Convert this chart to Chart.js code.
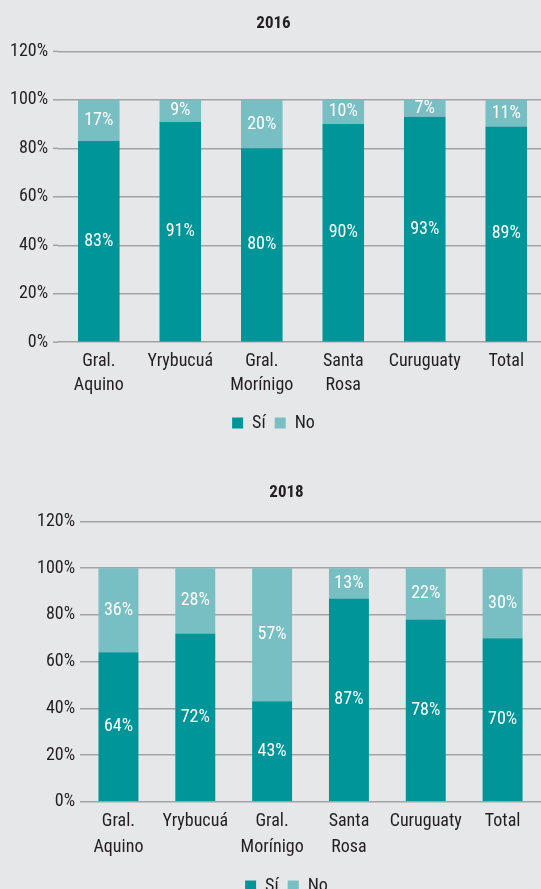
<!DOCTYPE html>
<html><head><meta charset="utf-8">
<script src="https://cdn.jsdelivr.net/npm/chart.js@4/dist/chart.umd.min.js"></script>
<style>
html,body{margin:0;padding:0;background:#e6e7e9;overflow:hidden;width:541px;height:889px;}
.wrap{position:absolute;left:0;}
</style></head><body>
<div class="wrap" style="top:0;width:547px;height:445px"><canvas id="c1"></canvas></div>
<div class="wrap" style="top:468px;width:541px;height:437px"><canvas id="c2"></canvas></div>
<script>
const categories = [["Gral.","Aquino"],"Yrybucuá",["Gral.","Morínigo"],["Santa","Rosa"],"Curuguaty","Total"];
const si2016 = [83,91,80,90,93,89];
const no2016 = [17,9,20,10,7,11];
const si2018 = [64,72,43,87,78,70];
const no2018 = [36,28,57,13,22,30];
const yTicks = [0,20,40,60,80,100,120];
const seriesNames = ["Sí","No"];

const FONT = '"Roboto Condensed","Liberation Sans Narrow","Roboto",sans-serif';
const C_SI = '#009599', C_NO = '#78bfc4', TXT = '#231f20', GRID = '#a3a3a5';

const labelPlugin = {
  id:'barLabels',
  beforeDatasetsDraw(chart, args, opts){
    const ext = opts.ext || 0;
    if(!ext) return;
    const ctx = chart.ctx, ys = chart.scales.y, a = chart.chartArea;
    ctx.save();
    ctx.strokeStyle = GRID; ctx.lineWidth = 1.5;
    yTicks.forEach(v => {
      const y = ys.getPixelForValue(v);
      ctx.beginPath(); ctx.moveTo(a.left - ext, y); ctx.lineTo(a.left, y); ctx.stroke();
    });
    ctx.restore();
  },
  afterDatasetsDraw(chart){
    const ctx = chart.ctx;
    ctx.save();
    ctx.fillStyle = '#ffffff';
    ctx.font = '18px ' + FONT;
    ctx.textAlign = 'center';
    ctx.textBaseline = 'middle';
    chart.data.datasets.forEach((ds, i) => {
      const meta = chart.getDatasetMeta(i);
      meta.data.forEach((bar, j) => {
        const y = (bar.y + bar.base) / 2;
        ctx.fillText(ds.data[j] + '%', bar.x, y);
      });
    });
    ctx.restore();
  }
};

function make(id, title, si, no, o){
  new Chart(document.getElementById(id), {
    type:'bar',
    data:{labels:categories, datasets:[
      {label:seriesNames[0], data:si, backgroundColor:C_SI, barPercentage:o.bar, categoryPercentage:1},
      {label:seriesNames[1], data:no, backgroundColor:C_NO, barPercentage:o.bar, categoryPercentage:1}
    ]},
    options:{
      responsive:true, maintainAspectRatio:false, animation:false,
      layout:{padding:o.pad},
      plugins:{
        title:{display:true, text:title, color:TXT, font:{family:FONT, size:17, weight:'bold'}, padding:o.titlePad},
        legend:{position:'bottom', labels:{color:TXT, font:{family:FONT,size:18}, boxWidth:11, boxHeight:11, padding:o.legPad}},
        tooltip:{enabled:false},
        barLabels:{ext:o.ext}
      },
      scales:{
        x:{stacked:true, grid:{display:false, drawTicks:false}, border:{display:false},
           ticks:{color:TXT, font:{family:FONT,size:18, lineHeight:o.lh}, maxRotation:0, autoSkip:false, padding:o.xPad}},
        y:{stacked:true, min:0, max:120, border:{display:false},
           afterBuildTicks(ax){ ax.ticks = yTicks.map(v=>({value:v})); },
           grid:{color:GRID, lineWidth:1.5, drawTicks:false},
           ticks:{color:TXT, font:{family:FONT,size:18}, padding:o.yPad, callback:v=>v+'%'}}
      }
    },
    plugins:[labelPlugin]
  });
}
make('c1','2016',si2016,no2016,{pad:{left:0,right:0,top:0,bottom:3},bar:0.51,titlePad:{top:14,bottom:17},xPad:8,yPad:10,ext:5,lh:1.3,legPad:9});
make('c2','2018',si2018,no2018,{pad:{left:32,right:0,top:0,bottom:0},bar:0.52,titlePad:{top:15,bottom:18},xPad:7,yPad:5,ext:0,lh:1.45,legPad:9});
</script>
</body></html>
